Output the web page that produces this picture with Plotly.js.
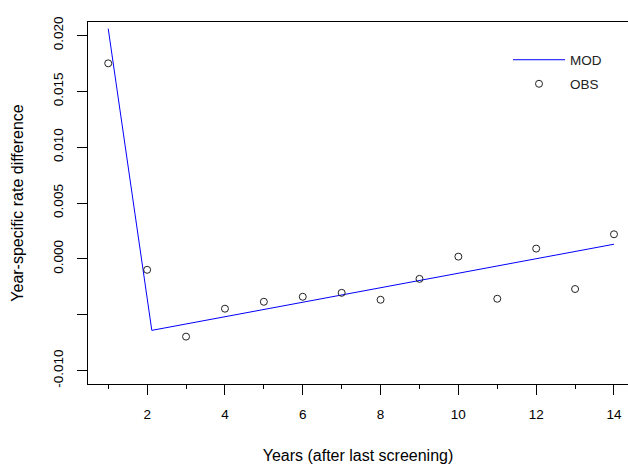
<!DOCTYPE html>
<html>
<head>
<meta charset="utf-8">
<script src="https://cdn.plot.ly/plotly-3.0.1.min.js"></script>
<style>html,body{margin:0;padding:0;background:#fff;}#chart{width:628px;height:464px;}</style>
</head>
<body>
<div id="chart"></div>
<script>
// Observed year-specific rate differences
var obsYears = [1, 2, 3, 4, 5, 6, 7, 8, 9, 10, 11, 12, 13, 14];
var obsValues = [0.0175, -0.00098, -0.00696, -0.00446, -0.00384, -0.00339, -0.00304,
                 -0.00366, -0.00179, 0.00020, -0.00357, 0.00092, -0.00270, 0.00220];
// Model (piecewise linear)
var modYears = [1, 2.12, 14];
var modValues = [0.0206, -0.0064, 0.00131];
// Axis ticks
var yTickVals = [-0.010, -0.005, 0.000, 0.005, 0.010, 0.015, 0.020];
var yTickText = ["-0.010", "", "0.000", "0.005", "0.010", "0.015", "0.020"];
var xTickVals = [2, 4, 6, 8, 10, 12, 14];

var font = "Liberation Sans, Arial, sans-serif";

var traces = [
  {x: modYears, y: modValues, mode: "lines", name: "MOD", legendgroup: "mod",
   line: {color: "#0000ff", width: 1}},
  {x: obsYears, y: obsValues, mode: "markers", name: "OBS", legendgroup: "obs",
   marker: {symbol: "circle-open", size: 7, color: "#222", line: {width: 1, color: "#222"}}}
];

var layout = {
  width: 628, height: 464,
  margin: {l: 88, r: 0, t: 22, b: 80},
  paper_bgcolor: "#fff", plot_bgcolor: "#fff",
  showlegend: true,
  legend: {x: 0.7778, y: 0.938, xanchor: "left", yanchor: "top",
           font: {family: font, size: 13.5, color: "#222"},
           bgcolor: "rgba(0,0,0,0)", itemwidth: 52, tracegroupgap: 3.5},
  xaxis: {
    range: [0.48, 14.36], showgrid: false, zeroline: false,
    showline: true, linecolor: "#000", linewidth: 1, mirror: true,
    tickmode: "array", tickvals: xTickVals,
    ticks: "outside", ticklen: 10, tickcolor: "#000", tickwidth: 1,
    minor: {dtick: 1, tick0: 1, ticks: "outside", ticklen: 4, tickcolor: "#000", tickwidth: 1, showgrid: false},
    tickfont: {family: font, size: 13.5, color: "#000"},
    ticklabelstandoff: 8,
    title: {text: "Years (after last screening)", font: {family: font, size: 16, color: "#000"}, standoff: 30}
  },
  yaxis: {
    range: [-0.0112, 0.0212], showgrid: false, zeroline: false,
    showline: true, linecolor: "#000", linewidth: 1, mirror: false,
    tickmode: "array", tickvals: yTickVals, ticktext: yTickText,
    ticks: "outside", ticklen: 10, tickcolor: "#000", tickwidth: 1,
    tickangle: -90,
    tickfont: {family: font, size: 13.5, color: "#000"},
    ticklabelstandoff: 9,
    title: {text: "Year-specific rate difference", font: {family: font, size: 16, color: "#000"}, standoff: 22}
  }
};

Plotly.newPlot("chart", traces, layout, {displayModeBar: false, staticPlot: true});
</script>
</body>
</html>
